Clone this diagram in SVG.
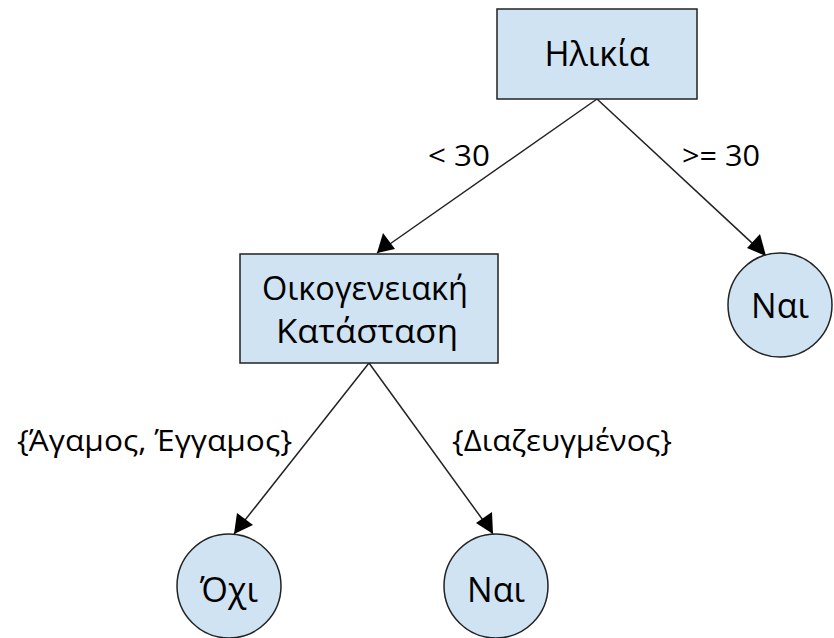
<svg xmlns="http://www.w3.org/2000/svg" width="834" height="638" viewBox="0 0 834 638">
  <style>
    .box { fill: #cfe3f2; stroke: #222; stroke-width: 1.5; }
    .node-text { font-family: "Open Sans", "DejaVu Sans", sans-serif; font-size: 34px; fill: #000; text-anchor: middle; }
    .two-line { font-size: 32px; }
    .edge { stroke: #222; stroke-width: 1.5; fill: none; }
    .head { fill: #000; }
    .edge-label { font-family: "Open Sans", "Liberation Sans", sans-serif; font-size: 29px; fill: #000; }
  </style>
  <rect width="834" height="638" fill="#fff"/>

  <g id="connectors">
    <line class="edge" x1="597" y1="99" x2="377" y2="253"/>
    <path class="head" d="M377,253 l6,-20 l12,16 z"/>
    <line class="edge" x1="597" y1="99" x2="766" y2="256"/>
    <path class="head" d="M766,256 l-19,-8 l13,-14 z"/>
    <line class="edge" x1="369" y1="363" x2="234" y2="534"/>
    <path class="head" d="M234,534 l3,-21 l16,12 z"/>
    <line class="edge" x1="369" y1="363" x2="493" y2="534"/>
    <path class="head" d="M493,534 l-17,-11 l16,-11 z"/>
    <text class="edge-label" x="428" y="166" textLength="62" lengthAdjust="spacingAndGlyphs">&lt; 30</text>
    <text class="edge-label" x="682" y="166" textLength="78" lengthAdjust="spacingAndGlyphs">&gt;= 30</text>
    <text class="edge-label" x="17" y="451" textLength="275" lengthAdjust="spacingAndGlyphs">{Άγαμος, Έγγαμος}</text>
    <text class="edge-label" x="452" y="451" textLength="220" lengthAdjust="spacingAndGlyphs">{Διαζευγμένος}</text>
  </g>

  <g id="node-age">
    <rect class="box" x="497" y="9" width="200" height="90"/>
    <text class="node-text" x="597" y="66">Ηλικία</text>
  </g>
  <g id="node-marital">
    <rect class="box" x="240" y="254" width="258" height="109"/>
    <text class="node-text two-line" x="365" y="300" textLength="206" lengthAdjust="spacingAndGlyphs">Οικογενειακή</text>
    <text class="node-text two-line" x="367" y="343" textLength="182" lengthAdjust="spacingAndGlyphs">Κατάσταση</text>
  </g>
  <g id="leaf-yes-right">
    <circle class="box" cx="780" cy="305" r="52"/>
    <text class="node-text" x="780" y="318">Ναι</text>
  </g>
  <g id="leaf-no">
    <circle class="box" cx="229" cy="586" r="52"/>
    <text class="node-text" x="229" y="602">Όχι</text>
  </g>
  <g id="leaf-yes-bottom">
    <circle class="box" cx="496" cy="586" r="52"/>
    <text class="node-text" x="496" y="602">Ναι</text>
  </g>
</svg>
